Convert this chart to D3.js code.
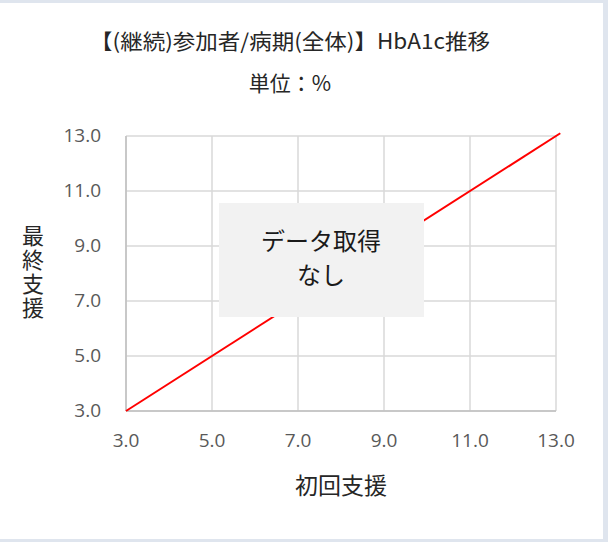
<!DOCTYPE html>
<html>
<head>
<meta charset="utf-8">
<script src="https://cdn.jsdelivr.net/npm/d3@7"></script>
<style>
  html, body { margin: 0; padding: 0; background: #dfe5ee; }
  svg { display: block; }
  text { font-family: "Noto Sans CJK JP", "Noto Sans", sans-serif; }
  .tick-label { font-family: "Open Sans", "Noto Sans", sans-serif; }
</style>
</head>
<body>
<svg id="chart" width="608" height="542"></svg>
<script>
const title = '【(継続)参加者/病期(全体)】HbA1c推移';
const unitLabel = '単位：%';
const xTitle = '初回支援';
const yTitle = '最終支援';
const ticks = [3, 5, 7, 9, 11, 13];
const domain = [3, 13];
// reference (y = x) line, runs slightly past the plot edge
const refLine = [[3, 3], [13.1, 13.1]];
const noDataText = ['データ取得', 'なし'];

const svg = d3.select('#chart');

// white card
svg.append('rect')
  .attr('x', 0).attr('y', 3).attr('width', 603).attr('height', 536)
  .attr('fill', '#fff');

const m = { left: 126, right: 556, top: 136, bottom: 411 };
const x = d3.scaleLinear().domain(domain).range([m.left, m.right]);
const y = d3.scaleLinear().domain(domain).range([m.bottom, m.top]);

// titles
svg.append('text')
  .attr('x', 290).attr('y', 49).attr('text-anchor', 'middle')
  .attr('font-size', 21).attr('fill', '#262626')
  .attr('textLength', 400).attr('lengthAdjust', 'spacingAndGlyphs')
  .text(title);
svg.append('text')
  .attr('x', 290).attr('y', 91).attr('text-anchor', 'middle')
  .attr('font-size', 21).attr('fill', '#262626').text(unitLabel);

// grid
const g = svg.append('g');
g.selectAll('.hg').data(ticks).join('line')
  .attr('x1', m.left).attr('x2', m.right)
  .attr('y1', d => y(d)).attr('y2', d => y(d))
  .attr('stroke', '#d9d9d9').attr('stroke-width', 1.5);
g.selectAll('.vg').data(ticks).join('line')
  .attr('y1', m.top).attr('y2', m.bottom)
  .attr('x1', d => x(d)).attr('x2', d => x(d))
  .attr('stroke', '#d9d9d9').attr('stroke-width', 1.5);

// axis lines
g.append('line').attr('x1', m.left).attr('x2', m.left).attr('y1', m.top).attr('y2', m.bottom)
  .attr('stroke', '#bfbfbf').attr('stroke-width', 1.5);
g.append('line').attr('x1', m.left).attr('x2', m.right).attr('y1', m.bottom).attr('y2', m.bottom)
  .attr('stroke', '#bfbfbf').attr('stroke-width', 1.5);

// tick labels
svg.selectAll('.yl').data(ticks).join('text')
  .attr('class', 'tick-label')
  .attr('x', 101).attr('y', d => y(d) + 6).attr('text-anchor', 'end')
  .attr('font-size', 19).attr('fill', '#595959')
  .text(d => d.toFixed(1));
svg.selectAll('.xl').data(ticks).join('text')
  .attr('class', 'tick-label')
  .attr('x', d => x(d)).attr('y', 447).attr('text-anchor', 'middle')
  .attr('font-size', 19).attr('fill', '#595959')
  .text(d => d.toFixed(1));

// axis titles
svg.append('text')
  .attr('x', 341).attr('y', 494).attr('text-anchor', 'middle')
  .attr('font-size', 23).attr('fill', '#262626').text(xTitle);
svg.append('text')
  .attr('x', 33).attr('y', 225)
  .style('writing-mode', 'vertical-rl')
  .attr('letter-spacing', 2)
  .attr('font-size', 22).attr('fill', '#262626').text(yTitle);

// red reference line
svg.append('path')
  .datum(refLine)
  .attr('d', d3.line().x(d => x(d[0])).y(d => y(d[1])))
  .attr('stroke', '#ff0000').attr('stroke-width', 2).attr('fill', 'none');

// no-data box
svg.append('rect')
  .attr('x', 219).attr('y', 203).attr('width', 205).attr('height', 114)
  .attr('fill', '#f2f2f2');
svg.selectAll('.nd').data(noDataText).join('text')
  .attr('x', 321).attr('y', (d, i) => 250 + i * 34).attr('text-anchor', 'middle')
  .attr('font-size', 24).attr('fill', '#1a1a1a').text(d => d);
</script>
</body>
</html>
